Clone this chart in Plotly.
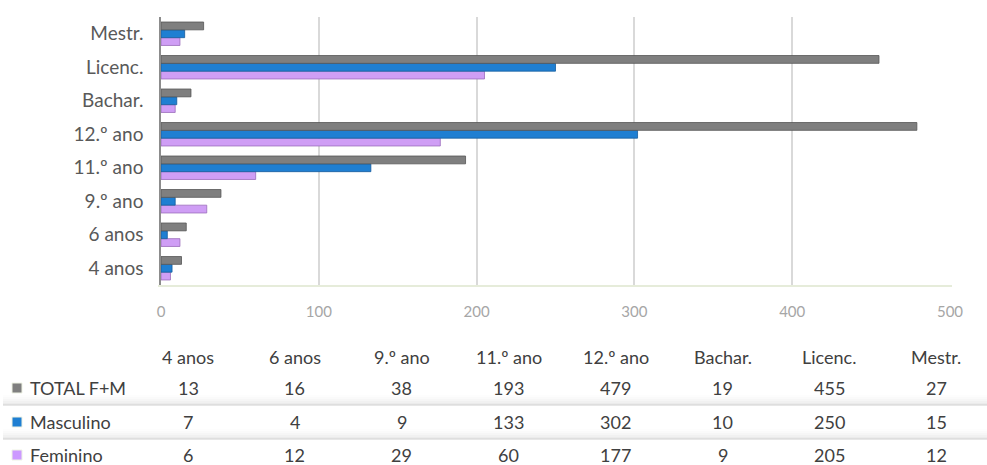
import plotly.graph_objects as go

# Education level categories (bottom to top on the chart)
categories = ["4 anos", "6 anos", "9.º ano", "11.º ano", "12.º ano", "Bachar.", "Licenc.", "Mestr."]
total_fm = [13, 16, 38, 193, 479, 19, 455, 27]
masculino = [7, 4, 9, 133, 302, 10, 250, 15]
feminino = [6, 12, 29, 60, 177, 9, 205, 12]
x_ticks = [0, 100, 200, 300, 400, 500]

W, H = 987, 465
ML, MR, MT, MB = 161, 37, 17, 180
PW, PH = W - ML - MR, H - MT - MB

FONT = "Lato"
COL_GRAY = "#7f7f7f"
COL_BLUE = "#1f7fd2"
COL_PINK = "#cf9ef5"
TABLE_SIZE = 18


def px_x(px):
    return (px - ML) / PW


def px_y(py):
    return 1 - (py - MT) / PH


fig = go.Figure()

# plotly draws the first trace at the bottom of each group
series = [
    ("Feminino", feminino, COL_PINK, "#9a6dbb"),
    ("Masculino", masculino, COL_BLUE, "#175c9c"),
    ("TOTAL F+M", total_fm, COL_GRAY, "#555555"),
]
for name, vals, col, edge in series:
    fig.add_trace(go.Bar(
        y=categories, x=vals, name=name, orientation="h",
        marker=dict(color=col, line=dict(color=edge, width=0.8)),
        showlegend=False,
    ))

fig.update_layout(
    width=W, height=H,
    margin=dict(l=ML, r=MR, t=MT, b=MB),
    paper_bgcolor="white", plot_bgcolor="white",
    barmode="group", bargap=0.3, bargroupgap=0,
    font=dict(family=FONT, color="#595959"),
    xaxis=dict(
        range=[0, 500], tickvals=x_ticks, showgrid=True, gridcolor="#d9d9d9",
        gridwidth=1.5, zeroline=False, showline=False,
        tickfont=dict(size=15, color="#a6a6a6", family=FONT),
        ticklabelstandoff=16, fixedrange=True,
    ),
    yaxis=dict(
        categoryorder="array", categoryarray=categories, range=[-0.5, 7.5],
        showgrid=False, zeroline=False, showline=True, linecolor="#8c8c8c",
        linewidth=1.5, tickfont=dict(size=19, color="#595959", family=FONT),
        ticklabelstandoff=12, fixedrange=True,
    ),
)

shapes = []
# pale baseline under the plot area
shapes.append(dict(type="line", xref="paper", yref="paper",
                   x0=px_x(158), x1=px_x(952), y0=px_y(286), y1=px_y(286),
                   line=dict(color="#e6ecda", width=2)))

# data table below the chart
col_x = [188 + 106.9 * i for i in range(len(categories))]
header_y = 357
row_y = [388, 422, 455]
annotations = []
for cx, cat in zip(col_x, categories):
    annotations.append(dict(x=px_x(cx), y=px_y(header_y), xref="paper", yref="paper",
                            text=cat, showarrow=False, xanchor="center", yanchor="middle",
                            font=dict(size=TABLE_SIZE, color="#404040", family=FONT)))

rows = [
    ("TOTAL F+M", total_fm, COL_GRAY),
    ("Masculino", masculino, COL_BLUE),
    ("Feminino", feminino, "#cc99ff"),
]

# row separators with a soft shade above them
for sy in (405, 439):
    shades = ["#fdfdfd", "#fafafa", "#f6f6f6", "#f1f1f1", "#ebebeb"]
    for k, c in enumerate(shades):
        shapes.append(dict(type="rect", xref="paper", yref="paper",
                           x0=px_x(3), x1=px_x(987), y0=px_y(sy - 10 + 2 * k),
                           y1=px_y(sy - 8 + 2 * k), fillcolor=c, line=dict(width=0),
                           layer="below"))
    shapes.append(dict(type="line", xref="paper", yref="paper",
                       x0=px_x(3), x1=px_x(987), y0=px_y(sy), y1=px_y(sy),
                       line=dict(color="#d0d0d0", width=1)))

for (name, vals, col), ry in zip(rows, row_y):
    shapes.append(dict(type="rect", xref="paper", yref="paper",
                       x0=px_x(12), x1=px_x(22), y0=px_y(ry - 5), y1=px_y(ry + 5),
                       fillcolor=col, line=dict(color="#eef2e4", width=1)))
    annotations.append(dict(x=px_x(28), y=px_y(ry), xref="paper", yref="paper",
                            text=name, showarrow=False, xanchor="left", yanchor="middle",
                            font=dict(size=TABLE_SIZE, color="#404040", family=FONT)))
    for cx, v in zip(col_x, vals):
        annotations.append(dict(x=px_x(cx), y=px_y(ry), xref="paper", yref="paper",
                                text=str(v), showarrow=False, xanchor="center",
                                yanchor="middle",
                                font=dict(size=TABLE_SIZE, color="#404040", family=FONT)))

fig.update_layout(shapes=shapes, annotations=annotations)
fig.write_html("out.html")
